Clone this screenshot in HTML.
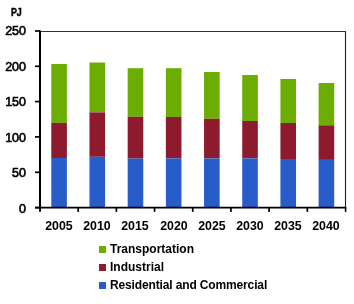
<!DOCTYPE html>
<html><head><meta charset="utf-8">
<style>
html,body{margin:0;padding:0;background:#fff;}
body{width:354px;height:304px;position:relative;overflow:hidden;font-family:"Liberation Sans",sans-serif;color:#000;}
.t{position:absolute;white-space:nowrap;line-height:1;will-change:transform;}
.yl{font-size:12px;text-align:right;width:30px;left:-3.6px;-webkit-text-stroke:0.6px #000;transform:scaleX(1.04);transform-origin:100% 0;}
.xl{font-size:12px;font-weight:bold;transform:scaleX(1.03);text-align:center;width:40px;}
.lg{font-size:12px;font-weight:bold;left:109.6px;}
.sq{position:absolute;width:7.4px;height:7.2px;left:98.7px;}
svg{position:absolute;left:0;top:0;}
</style></head><body>
<svg width="354" height="304" viewBox="0 0 354 304">
<rect x="51.29" y="64" width="15.6" height="58.90" fill="#6bad03"/><rect x="51.29" y="122.9" width="15.6" height="35.10" fill="#8e1a2e"/><rect x="51.29" y="158" width="15.6" height="50.00" fill="#285cc9"/><rect x="89.48" y="62.5" width="15.6" height="49.90" fill="#6bad03"/><rect x="89.48" y="112.4" width="15.6" height="44.40" fill="#8e1a2e"/><rect x="89.48" y="156.8" width="15.6" height="51.20" fill="#285cc9"/><rect x="127.67" y="68.2" width="15.6" height="48.55" fill="#6bad03"/><rect x="127.67" y="116.75" width="15.6" height="41.85" fill="#8e1a2e"/><rect x="127.67" y="158.6" width="15.6" height="49.40" fill="#285cc9"/><rect x="165.86" y="68.2" width="15.6" height="48.80" fill="#6bad03"/><rect x="165.86" y="117" width="15.6" height="41.40" fill="#8e1a2e"/><rect x="165.86" y="158.4" width="15.6" height="49.60" fill="#285cc9"/><rect x="204.04" y="72" width="15.6" height="46.80" fill="#6bad03"/><rect x="204.04" y="118.8" width="15.6" height="39.60" fill="#8e1a2e"/><rect x="204.04" y="158.4" width="15.6" height="49.60" fill="#285cc9"/><rect x="242.23" y="75" width="15.6" height="46.00" fill="#6bad03"/><rect x="242.23" y="121" width="15.6" height="37.40" fill="#8e1a2e"/><rect x="242.23" y="158.4" width="15.6" height="49.60" fill="#285cc9"/><rect x="280.42" y="79" width="15.6" height="44.00" fill="#6bad03"/><rect x="280.42" y="123" width="15.6" height="36.00" fill="#8e1a2e"/><rect x="280.42" y="159" width="15.6" height="49.00" fill="#285cc9"/><rect x="318.61" y="83" width="15.6" height="42.30" fill="#6bad03"/><rect x="318.61" y="125.3" width="15.6" height="34.60" fill="#8e1a2e"/><rect x="318.61" y="159.9" width="15.6" height="48.10" fill="#285cc9"/>
<line x1="40" y1="31.5" x2="346" y2="31.5" stroke="#333" stroke-width="1"/>
<line x1="345.5" y1="31.5" x2="345.5" y2="207" stroke="#222" stroke-width="1.1"/><line x1="345.6" y1="207" x2="345.6" y2="211.9" stroke="#000" stroke-width="1.6"/>
<line x1="40" y1="30.4" x2="40" y2="211.8" stroke="#000" stroke-width="2"/>
<line x1="35" y1="207.6" x2="346" y2="207.6" stroke="#000" stroke-width="1.8"/>
<line x1="35" y1="31.0" x2="40" y2="31.0" stroke="#000" stroke-width="1.7"/><line x1="35" y1="66.3" x2="40" y2="66.3" stroke="#000" stroke-width="1.7"/><line x1="35" y1="101.6" x2="40" y2="101.6" stroke="#000" stroke-width="1.7"/><line x1="35" y1="136.9" x2="40" y2="136.9" stroke="#000" stroke-width="1.7"/><line x1="35" y1="172.3" x2="40" y2="172.3" stroke="#000" stroke-width="1.7"/><line x1="35" y1="207.6" x2="40" y2="207.6" stroke="#000" stroke-width="1.7"/><line x1="78.19" y1="207.6" x2="78.19" y2="211.9" stroke="#000" stroke-width="1.7"/><line x1="116.38" y1="207.6" x2="116.38" y2="211.9" stroke="#000" stroke-width="1.7"/><line x1="154.56" y1="207.6" x2="154.56" y2="211.9" stroke="#000" stroke-width="1.7"/><line x1="192.75" y1="207.6" x2="192.75" y2="211.9" stroke="#000" stroke-width="1.7"/><line x1="230.94" y1="207.6" x2="230.94" y2="211.9" stroke="#000" stroke-width="1.7"/><line x1="269.12" y1="207.6" x2="269.12" y2="211.9" stroke="#000" stroke-width="1.7"/><line x1="307.31" y1="207.6" x2="307.31" y2="211.9" stroke="#000" stroke-width="1.7"/>
</svg>
<div class="t" style="left:10.6px;top:6.2px;font-size:11.6px;font-weight:bold;-webkit-text-stroke:0.5px #000;transform:scaleX(0.76);transform-origin:0 0;letter-spacing:-0.3px">PJ</div>
<div class="t yl" style="top:25.20px">250</div>
<div class="t yl" style="top:60.68px">200</div>
<div class="t yl" style="top:96.16px">150</div>
<div class="t yl" style="top:131.64px">100</div>
<div class="t yl" style="top:167.12px">50</div>
<div class="t yl" style="top:202.60px">0</div>

<div class="t xl" style="left:39.09px;top:220px">2005</div>
<div class="t xl" style="left:77.28px;top:220px">2010</div>
<div class="t xl" style="left:115.47px;top:220px">2015</div>
<div class="t xl" style="left:153.66px;top:220px">2020</div>
<div class="t xl" style="left:191.84px;top:220px">2025</div>
<div class="t xl" style="left:230.03px;top:220px">2030</div>
<div class="t xl" style="left:268.22px;top:220px">2035</div>
<div class="t xl" style="left:306.41px;top:220px">2040</div>

<div class="sq" style="top:246px;background:#6bad03"></div>
<div class="t lg" style="top:243px">Transportation</div>
<div class="sq" style="top:264px;background:#8e1a2e"></div>
<div class="t lg" style="top:261px">Industrial</div>
<div class="sq" style="top:282px;background:#285cc9"></div>
<div class="t lg" style="top:279px;letter-spacing:-0.14px">Residential and Commercial</div>
</body></html>
